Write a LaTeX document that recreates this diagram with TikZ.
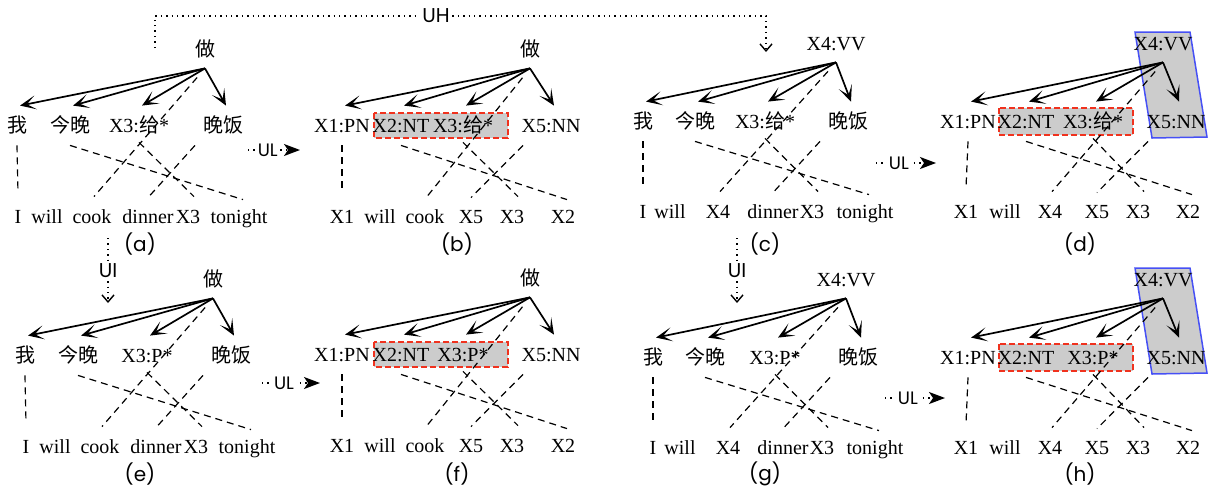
\documentclass[tikz,border=0pt]{standalone}
\usepackage{fontspec}
\setmainfont{Liberation Serif}
\newfontfamily\cjk{Noto Sans CJK SC}
\newfontfamily\lblfont{Poppins}
\usetikzlibrary{arrows.meta,calc}
\definecolor{boxred}{RGB}{240,50,30}
\definecolor{boxblue}{RGB}{70,80,245}

\begin{document}
\begin{tikzpicture}[x=0.5pt,y=-0.5pt,
  wd/.style={inner sep=1pt,text height=7pt,text depth=2pt,font=\fontsize{10}{12}\selectfont},
  dep/.style={line width=0.85pt,-{Stealth[length=8pt,width=7pt,inset=4.5pt]}},
  al/.style={line width=0.6pt,dash pattern=on 3.5pt off 2.5pt},
  ulink/.style={line width=0.7pt,dash pattern=on 0.7pt off 2pt,-{Stealth[length=8pt,width=6pt,inset=2pt]}},
  hlink/.style={line width=0.7pt,dash pattern=on 0.7pt off 2pt,-{Straight Barb[length=3.5pt,width=6pt]}},
  tag/.style={fill=white,inner sep=1pt,font=\lblfont\fontsize{10}{12}\selectfont},
  subcap/.style={font=\lblfont\fontsize{10}{12}\selectfont},
  hibox/.style={fill=black!20,draw=boxred,line width=0.75pt,dash pattern=on 3pt off 1.5pt},
  hipoly/.style={fill=black!20,draw=boxblue,line width=0.75pt}]
\useasboundingbox (0,0) rectangle (1213,493);

% (a) and (e)
\foreach \p/\dx/\dy/\xlab in {a/0/0/{\cjk 给}, e/8/230/P} {
  \begin{scope}[shift={(\dx,\dy)}]
    \node[wd] (\p-h) at (205,51) {\cjk 做};
    \foreach \n/\x/\w in {1/17/{\cjk 我}, 2/70/{\cjk 今晚}, 3/139/{X3:{\xlab}*}, 4/223/{\cjk 晚饭}}
      \node[wd] (\p-w\n) at (\x,127) {\w};
    \foreach \n/\x/\w in {1/18/I, 2/47/will, 3/92/cook, 4/148/dinner, 5/188/X3, 6/239/tonight}
      \node[wd] (\p-b\n) at (\x,218) {\w};
  \end{scope}
}

% (b) and (f)
\foreach \p/\dy/\xlab in {b/0/{\cjk 给}, f/229/P} {
  \begin{scope}[shift={(0,\dy)}]
    \path[hibox] (374,113) rectangle (508,138);
    \node[wd] (\p-h) at (530,51) {\cjk 做};
    \foreach \n/\x/\w in {1/342/X1:PN, 2/401/X2:NT, 3/463/{X3:{\xlab}*}, 4/551/X5:NN}
      \node[wd] (\p-w\n) at (\x,127) {\w};
    \foreach \n/\x/\w in {1/342/X1, 2/380/will, 3/425/cook, 4/471/X5, 5/512/X3, 6/563/X2}
      \node[wd] (\p-b\n) at (\x,218) {\w};
  \end{scope}
}

% (c) and (g)
\foreach \p/\dx/\dy/\xlab in {c/0/0/{\cjk 给}, g/10/236/P} {
  \begin{scope}[shift={(\dx,\dy)}]
    \node[wd] (\p-h) at (836,45) {X4:VV};
    \foreach \n/\x/\w in {1/643/{\cjk 我}, 2/695/{\cjk 今晚}, 3/765/{X3:{\xlab}*}, 4/848/{\cjk 晚饭}}
      \node[wd] (\p-w\n) at (\x,123) {\w};
    \foreach \n/\x/\w in {1/643/I, 2/670/will, 3/718/X4, 4/773/dinner, 5/812/X3, 6/865/tonight}
      \node[wd] (\p-b\n) at (\x,213) {\w};
  \end{scope}
}

% (d) and (h)
\foreach \p/\dy/\xlab in {d/0/{\cjk 给}, h/236/P} {
  \begin{scope}[shift={(0,\dy)}]
    \path[hibox] (999,108) rectangle (1133,135);
    \path[hipoly] (1135,32) -- (1190,32) -- (1207,137) -- (1152,138) -- cycle;
    \node[wd] (\p-h) at (1163,45) {X4:VV};
    \foreach \n/\x/\w in {1/968/X1:PN, 2/1026/X2:NT, 3/1093/{X3:{\xlab}*}, 4/1176/X5:NN}
      \node[wd] (\p-w\n) at (\x,123) {\w};
    \foreach \n/\x/\w in {1/966/X1, 2/1005/will, 3/1050/X4, 4/1097/X5, 5/1138/X3, 6/1188/X2}
      \node[wd] (\p-b\n) at (\x,213) {\w};
  \end{scope}
}

% dependencies and alignments
\foreach \p in {a,...,h} {
  \coordinate (\p-o) at ([yshift=-3pt]\p-h.south);
  \foreach \n in {1,...,4}
    \draw[dep] (\p-o) -- ([xshift=1.5pt,yshift=5pt]\p-w\n.north);
  \draw[al] ([yshift=-3.5pt]\p-w1.south) -- ([yshift=7pt]\p-b1.north);
  \draw[al] ([yshift=-3.5pt]\p-w2.south) -- ([xshift=2pt,yshift=3.5pt]\p-b6.north);
  \draw[al] ([yshift=-2pt]\p-w3.south) -- ([xshift=3pt,yshift=5pt]\p-b5.north);
  \draw[al] ([xshift=-14pt,yshift=-3.5pt]\p-w4.south) -- ([yshift=4.5pt]\p-b4.north);
  \draw[al,shorten <=6pt] (\p-o) -- ([xshift=1pt,yshift=5pt]\p-b3.north);
}

% operations between panels
\coordinate (uh-s) at (155,48);
\coordinate (uh-e) at (766,52);
\draw[hlink] (uh-s) -- ++(0,-32) -| node[tag,pos=0.23]{UH} (uh-e);
\foreach \k/\x in {1/108, 2/737} {
  \coordinate (ui\k-s) at (\x,238);
  \coordinate (ui\k-e) at (\x,303);
  \draw[hlink] (ui\k-s) -- node[tag]{UI} (ui\k-e);
}
\foreach \k/\x/\y/\xe in {ab/248/150/300, cd/876/163/936, ef/262/383/320, gh/885/398/945} {
  \coordinate (ul-\k-s) at (\x,\y);
  \coordinate (ul-\k-e) at (\xe,\y);
  \draw[ulink] (ul-\k-s) -- node[tag,pos=0.38,font=\lblfont\fontsize{9}{10}\selectfont]{UL} (ul-\k-e);
}

% captions
\foreach \c/\x/\y in {a/140/244, b/457/244, c/765/244, d/1080/244, e/140/474, f/457/474, g/765/474, h/1080/474}
  \node[subcap] (cap-\c) at (\x,\y) {(\c)};
\end{tikzpicture}
\end{document}
